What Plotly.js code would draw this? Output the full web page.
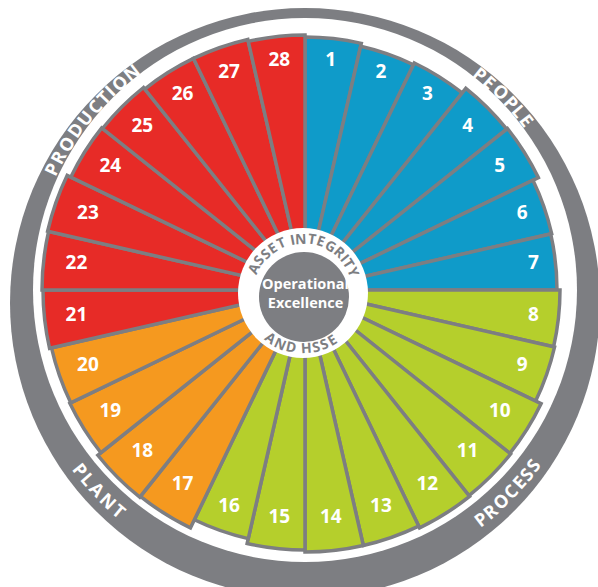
<!DOCTYPE html>
<html><head><meta charset="utf-8">
<script src="https://cdn.plot.ly/plotly-3.0.1.min.js"></script>
<style>html,body{margin:0;padding:0;background:#fff}#chart{width:598px;height:587px}</style>
</head><body><div id="chart"></div>
<script>
// ---- data ----
const petalLabels = ['1','2','3','4','5','6','7','8','9','10','11','12','13','14','15','16','17','18','19','20','21','22','23','24','25','26','27','28'];
const petalRadius = [253,250,252,258,259,253,252,255,256,262,263,264,262,262,260,255,264,265,261,260,262,263,264,260,259,257,257,255];
const groupNames = ['PEOPLE','PROCESS','PLANT','PRODUCTION'];
const groupSizes = [7,9,4,8];
const groupColors = ['#0f9bc9','#b5cf2c','#f5991f','#e72b27'];
const centerTitle = ['Operational','Excellence'];
const innerTop = 'ASSET INTEGRITY';
const innerBottom = 'AND HSSE';

// ---- styling / geometry ----
const W = 598, H = 587;
const GRAY = '#7d7e82';
const CX = 305, CY = 290, PR = 280;

const petalColors = [];
groupSizes.forEach((n, g) => { for (let i = 0; i < n; i++) petalColors.push(groupColors[g]); });

const traces = [
  {
    type: 'barpolar',
    theta: petalLabels,
    r: petalRadius,
    marker: {color: petalColors, line: {color: GRAY, width: 3.5}},
    hoverinfo: 'skip'
  },
  {
    type: 'scatterpolar',
    mode: 'text',
    theta: petalLabels,
    r: petalLabels.map(() => 230),
    text: petalLabels.map(t => '<b>' + t + '</b>'),
    textfont: {family: 'Open Sans, sans-serif', size: 19, color: '#ffffff'},
    hoverinfo: 'skip'
  }
];

function px(x){return x / W;}
function py(y){return 1 - y / H;}
function circ(cx, cy, r, color, layer){
  return {type:'circle', xref:'paper', yref:'paper', x0:px(cx-r), x1:px(cx+r), y0:py(cy+r), y1:py(cy-r),
          fillcolor:color, line:{width:0}, layer:layer};
}

const shapes = [
  circ(305, 303, 295, GRAY, 'below'),
  circ(305, 290, 272, '#ffffff', 'below'),
  circ(303, 293, 65, '#ffffff', 'above'),
  circ(304, 297, 45, GRAY, 'above')
];

const cw = {A:.70,B:.66,C:.66,D:.72,E:.56,G:.72,H:.72,I:.30,L:.52,N:.74,O:.78,P:.62,R:.64,S:.56,T:.58,U:.72,Y:.64,' ':.3};
const annotations = [];

function arcText(str, cx, cy, rFn, a0, a1, bottom, size, color){
  const chars = str.split('');
  const w = chars.map(c => cw[c] || .6);
  const pos = []; let s = 0;
  w.forEach((wi, i) => { s += (i === 0 ? 0 : (w[i-1] + wi) / 2); pos.push(s); });
  const total = pos[pos.length-1] || 1;
  chars.forEach((c, i) => {
    if (c === ' ') return;
    const th = a0 + (a1 - a0) * pos[i] / total;
    const rad = th * Math.PI / 180;
    const r = rFn(th);
    const x = cx + r * Math.sin(rad), y = cy - r * Math.cos(rad);
    annotations.push({xref:'paper', yref:'paper', x:px(x), y:py(y), xanchor:'center', yanchor:'middle',
      text:'<b>' + c + '</b>', showarrow:false, textangle: bottom ? th - 180 : th,
      font:{family:'Open Sans, sans-serif', size:size, color:color}});
  });
}
function ringMid(th){
  const rad = th * Math.PI / 180, c = Math.cos(rad);
  const t = -13 * c + Math.sqrt(169 * c * c - 169 + 295 * 295);
  return (272 + t) / 2;
}
arcText(groupNames[0], CX, CY, ringMid, 39, 52.5, false, 18, '#ffffff');
arcText(groupNames[1], CX, CY, ringMid, 142.5, 127.5, true, 18, '#ffffff');
arcText(groupNames[2], CX, CY, ringMid, 231.5, 220, true, 18, '#ffffff');
arcText(groupNames[3], CX, CY, ringMid, 295.5, 321.5, false, 18, '#ffffff');
arcText(innerTop, 303, 293, () => 55, -64, 68, false, 14, GRAY);
arcText(innerBottom, 303, 293, () => 55, 216, 148, true, 14, GRAY);

annotations.push({xref:'paper', yref:'paper', x:px(305), y:py(293), xanchor:'center', yanchor:'middle',
  text:'<b>' + centerTitle[0] + '<br>' + centerTitle[1] + '</b>', showarrow:false,
  font:{family:'Open Sans, sans-serif', size:14.5, color:'#ffffff'}});

const layout = {
  width: W, height: H,
  margin: {l:0, r:0, t:0, b:0},
  paper_bgcolor: '#ffffff',
  showlegend: false,
  polar: {
    domain: {x: [(CX-PR)/W, (CX+PR)/W], y: [(H-CY-PR)/H, (H-CY+PR)/H]},
    bgcolor: 'rgba(0,0,0,0)',
    bargap: 0,
    radialaxis: {range: [0, PR], visible: false},
    angularaxis: {type: 'category', categoryarray: petalLabels, rotation: 90 - 180/28, direction: 'clockwise',
                  showgrid: false, showline: false, showticklabels: false, ticks: ''}
  },
  shapes: shapes,
  annotations: annotations
};

Plotly.newPlot('chart', traces, layout, {displayModeBar: false, staticPlot: true});
</script>
</body></html>
